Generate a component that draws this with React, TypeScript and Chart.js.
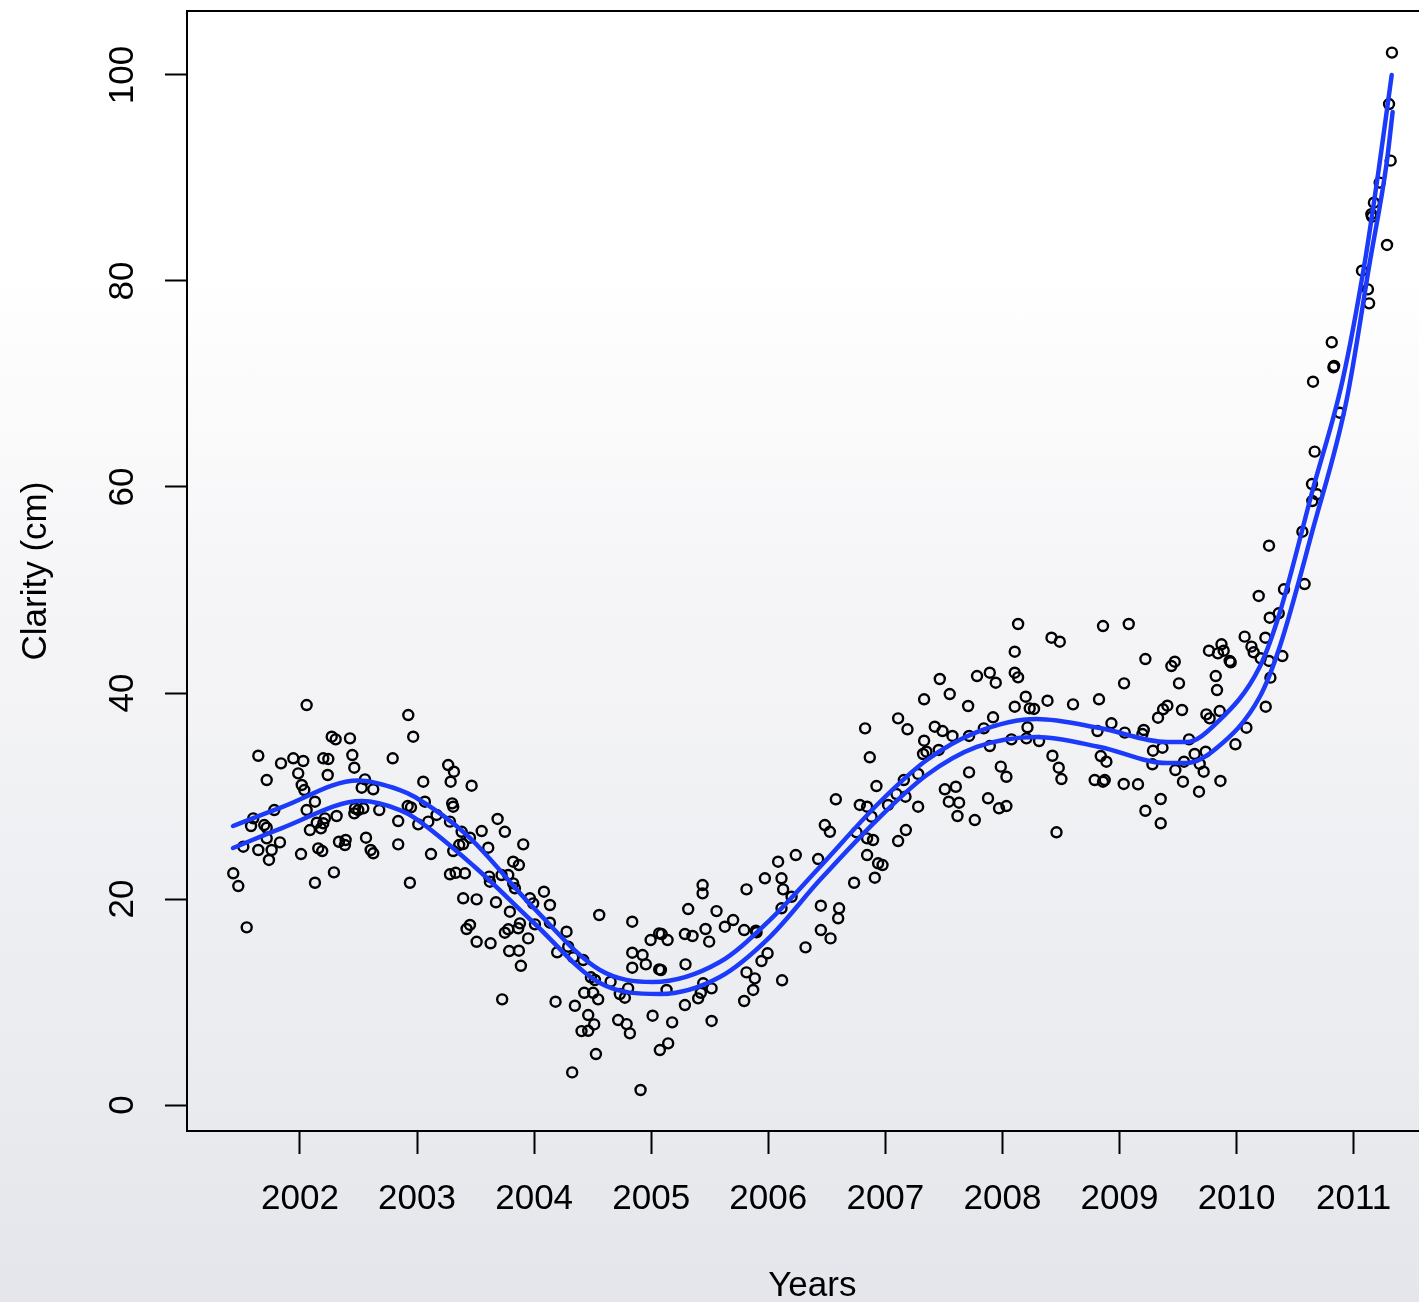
import { useEffect, useRef } from 'react';
import { Chart, registerables } from 'chart.js';

Chart.register(...registerables);

const FONT = '"Liberation Sans", Arial, Helvetica, sans-serif';
const BLUE = '#1c3afa';

// Axis ticks
const yearTicks = [2002, 2003, 2004, 2005, 2006, 2007, 2008, 2009, 2010, 2011];
const clarityTicks = [0, 20, 40, 60, 80, 100];

// Axis ranges (years, cm)
const yearRange = [2001.035, 2011.717];
const clarityRange = [-2.52, 106.21];

// Individual clarity measurements: decimal year and clarity in cm
const sampleYear = [
  2002.057, 2002.925, 2002.967, 2002.271, 2002.305, 2002.427, 2001.644, 2001.838, 2001.943, 2002.028,
  2002.199, 2002.242, 2002.447, 2002.464, 2002.792, 2001.985, 2002.237, 2001.716, 2002.015, 2002.037,
  2002.555, 2002.527, 2002.626, 2003.053, 2003.266, 2003.315, 2003.287, 2003.466, 2002.128, 2002.057,
  2001.781, 2002.470, 2002.498, 2002.541, 2002.677, 2002.313, 2002.464, 2002.213, 2002.199, 2002.143,
  2002.085, 2002.179, 2001.601, 2001.582, 2001.695, 2001.716, 2003.067, 2002.920, 2002.948, 2003.167,
  2002.839, 2003.010, 2003.096, 2003.281, 2003.309, 2003.300, 2003.381, 2003.452, 2001.716, 2001.829,
  2001.516, 2001.644, 2001.758, 2001.735, 2002.009, 2002.156, 2002.190, 2002.333, 2002.390, 2002.384,
  2002.564, 2002.604, 2002.626, 2002.839, 2003.119, 2003.309, 2003.360, 2003.394, 2001.430, 2001.473,
  2002.290, 2002.128, 2002.939, 2003.281, 2003.330, 2003.409, 2003.394, 2001.545, 2003.423, 2003.452,
  2003.688, 2003.750, 2003.552, 2003.608, 2003.907, 2003.821, 2003.870, 2003.616, 2003.622, 2003.722,
  2003.779, 2003.821, 2003.836, 2003.509, 2003.674, 2003.793, 2003.964, 2003.992, 2004.084, 2004.135,
  2003.879, 2003.864, 2003.779, 2003.750, 2004.007, 2004.135, 2003.949, 2003.628, 2003.509, 2003.787,
  2003.870, 2003.887, 2003.727, 2004.277, 2004.197, 2004.291, 2004.334, 2004.419, 2004.556, 2004.838,
  2004.995, 2005.068, 2004.838, 2004.926, 2004.954, 2004.838, 2005.068, 2004.485, 2004.519, 2004.653,
  2004.428, 2004.504, 2004.547, 2004.732, 2004.775, 2004.803, 2004.183, 2004.348, 2004.462, 2004.513,
  2004.405, 2004.462, 2004.718, 2004.790, 2004.818, 2005.012, 2004.528, 2004.325, 2004.909, 2005.074,
  2006.577, 2006.782, 2006.844, 2006.924, 2006.483, 2006.526, 2006.754, 2006.844, 2006.895, 2006.882,
  2006.844, 2006.938, 2006.910, 2006.733, 2006.235, 2006.084, 2006.426, 2006.113, 2006.127, 2006.199,
  2006.113, 2005.971, 2005.814, 2006.449, 2006.605, 2006.597, 2006.449, 2006.532, 2006.318, 2005.439,
  2005.439, 2005.316, 2005.558, 2005.700, 2005.629, 2005.464, 2005.495, 2005.794, 2005.894, 2005.900,
  2005.288, 2005.353, 2005.089, 2005.140, 2005.293, 2005.083, 2005.994, 2005.942, 2005.814, 2005.885,
  2005.871, 2005.794, 2006.118, 2005.444, 2005.424, 2005.401, 2005.516, 2005.131, 2005.288, 2005.179,
  2005.516, 2005.145,
  2008.134, 2008.105, 2008.105, 2008.134, 2007.465, 2007.783, 2007.892, 2007.943, 2007.550, 2007.331,
  2007.707, 2008.105, 2007.109, 2007.189, 2006.827, 2006.867, 2007.422, 2007.488, 2007.573, 2007.715,
  2007.841, 2007.920, 2007.892, 2008.077, 2007.331, 2007.456, 2007.322, 2007.351, 2007.280, 2007.715,
  2007.986, 2008.034, 2007.158, 2007.508, 2007.602, 2007.542, 2007.630, 2007.616, 2007.764, 2007.877,
  2007.971, 2008.034, 2007.280, 2007.172, 2007.095, 2007.023, 2007.175, 2007.109, 2006.976,
  2008.859, 2009.079, 2008.419, 2008.490, 2009.221, 2009.443, 2009.472, 2009.764, 2009.841, 2009.871,
  2009.890, 2009.941, 2009.950, 2010.069, 2010.127, 2010.146, 2009.039, 2009.508, 2009.822, 2009.833,
  2008.199, 2008.233, 2008.270, 2008.385, 2008.603, 2008.825, 2009.329, 2009.372, 2009.409, 2009.534,
  2009.742, 2009.770, 2009.856, 2008.214, 2008.205, 2008.313, 2008.931, 2008.812, 2009.045, 2009.207,
  2009.196, 2009.594, 2010.084, 2009.990, 2009.286, 2009.367, 2008.427, 2008.481, 2008.504, 2008.840,
  2008.888, 2008.788, 2008.859, 2008.874, 2009.036, 2009.158, 2009.281, 2009.477, 2009.551, 2009.542,
  2009.642, 2009.685, 2009.719, 2009.736, 2009.862, 2009.679, 2009.352, 2009.221, 2009.352, 2008.462,
  2010.653, 2010.881, 2010.667, 2010.644, 2010.687, 2010.647, 2010.562, 2010.277, 2010.581, 2010.405,
  2010.189, 2010.283, 2010.360, 2010.246, 2010.391, 2010.277, 2010.206, 2010.289, 2010.249,
  2011.327, 2011.302, 2011.316, 2011.222, 2011.173, 2011.151, 2011.157, 2011.285, 2011.071, 2011.122,
  2011.132, 2010.813, 2010.833, 2010.827,
];

const sampleClarity = [
  38.83, 37.86, 35.76, 35.76, 35.50, 35.60, 33.91, 33.17, 33.66, 33.40,
  33.66, 33.59, 33.98, 32.75, 33.66, 32.20, 32.04, 31.55, 31.07, 30.58,
  31.62, 30.81, 30.65, 31.39, 33.01, 32.36, 31.39, 31.00, 29.45, 28.64,
  28.64, 28.81, 28.64, 28.81, 28.64, 28.06, 28.32, 27.83, 27.35, 27.41,
  26.70, 26.86, 27.83, 27.09, 27.18, 26.92, 29.45, 29.03, 28.90, 28.16,
  27.57, 27.25, 27.51, 27.51, 28.96, 29.29, 26.53, 25.95, 25.89, 25.50,
  25.08, 24.76, 24.76, 23.79, 24.37, 24.92, 24.66, 25.56, 25.73, 25.24,
  25.95, 24.76, 24.44, 25.31, 24.37, 24.66, 25.24, 25.34, 22.50, 21.26,
  22.59, 21.58, 21.58, 22.40, 22.55, 22.50, 20.07, 17.25, 17.09, 17.48,
  27.77, 26.53, 26.60, 24.98, 25.31, 23.62, 23.30, 22.17, 21.68, 22.33,
  22.33, 21.52, 21.04, 19.97, 19.68, 18.77, 20.07, 19.58, 20.71, 19.42,
  17.64, 17.16, 17.06, 16.73, 17.54, 17.70, 16.18, 15.70, 15.85, 14.95,
  14.98, 13.52, 10.26, 16.83, 14.83, 15.37, 14.34, 14.08, 18.45, 17.80,
  16.02, 16.67, 14.79, 14.56, 13.66, 13.33, 13.17, 12.40, 12.14, 11.97,
  10.90, 10.90, 10.26, 10.78, 10.42, 11.33, 10.03, 9.64, 8.74, 7.83,
  7.18, 7.21, 8.25, 7.86, 6.96, 8.67, 4.95, 3.17, 1.46, 5.34,
  29.68, 29.13, 28.96, 30.97, 27.18, 26.53, 26.48, 25.89, 25.73, 27.99,
  24.27, 23.47, 22.07, 21.58, 24.27, 23.62, 23.88, 22.01, 20.94, 20.22,
  19.10, 22.01, 20.94, 19.35, 19.10, 18.13, 16.99, 16.18, 15.31, 21.36,
  20.55, 19.03, 18.83, 17.96, 17.31, 17.09, 15.86, 16.99, 16.92, 16.77,
  16.60, 16.41, 16.60, 16.02, 13.66, 13.11, 14.73, 13.98, 12.88, 12.30,
  11.17, 10.10, 12.11, 11.82, 10.90, 10.36, 11.33, 11.17, 9.71, 8.03,
  8.16, 5.99,
  46.70, 44.01, 41.97, 41.52, 41.36, 41.65, 41.97, 41.00, 39.90, 39.39,
  38.74, 38.67, 37.54, 36.48, 36.57, 33.76, 36.73, 36.31, 35.83, 35.83,
  36.57, 37.64, 34.85, 35.50, 35.37, 34.47, 34.08, 34.30, 32.14, 32.30,
  32.85, 31.87, 31.55, 30.65, 30.90, 29.45, 29.35, 28.06, 27.67, 29.78,
  28.81, 29.03, 28.96, 29.93, 30.19, 29.13, 26.70, 25.63, 23.30,
  46.50, 46.70, 45.37, 44.98, 43.30, 42.62, 43.04, 44.11, 43.85, 44.73,
  44.11, 43.11, 42.98, 45.47, 44.50, 43.95, 40.94, 40.94, 41.65, 40.29,
  39.64, 38.51, 38.45, 39.25, 38.90, 39.39, 37.60, 38.42, 38.77, 38.35,
  37.93, 37.54, 38.25, 36.67, 35.60, 35.34, 37.06, 36.31, 36.15, 36.41,
  36.02, 35.50, 36.63, 35.02, 34.40, 34.69, 33.91, 32.75, 31.65, 33.88,
  33.33, 31.55, 31.39, 31.55, 31.17, 31.14, 33.08, 32.52, 33.33, 31.39,
  34.08, 33.11, 32.36, 34.30, 31.46, 30.42, 29.71, 28.57, 27.35, 26.48,
  70.22, 67.21, 63.43, 60.29, 59.29, 58.64, 55.66, 54.30, 50.58, 50.07,
  49.42, 47.31, 47.74, 45.37, 43.59, 43.11, 43.37, 41.49, 38.67,
  102.17, 97.18, 91.68, 89.55, 87.60, 86.48, 86.24, 83.50, 81.00, 79.19,
  77.83, 74.05, 71.75, 71.62,
];

// Upper and lower smoothed trend curves
const upperYear = [
  2001.428, 2001.846, 2002.495, 2002.854, 2002.982, 2003.426, 2003.990, 2004.562, 2005.014, 2005.586,
  2006.013, 2006.440, 2006.953, 2007.354, 2007.781, 2008.293, 2008.831, 2009.403, 2009.574, 2009.830,
  2010.197, 2010.368, 2010.650, 2010.906, 2011.094, 2011.222, 2011.325,
];
const upperClarity = [
  27.09, 28.93, 31.50, 30.58, 29.90, 26.21, 19.22, 13.11, 11.94, 13.88,
  17.96, 23.11, 29.42, 33.50, 36.21, 37.48, 36.60, 35.24, 35.24, 37.09,
  42.52, 47.77, 59.71, 70.39, 81.75, 91.46, 100.0,
];
const lowerYear = [
  2001.428, 2001.846, 2002.529, 2002.854, 2002.982, 2003.494, 2003.990, 2004.562, 2005.074, 2005.586,
  2006.013, 2006.440, 2006.953, 2007.354, 2007.781, 2008.293, 2008.831, 2009.403, 2009.574, 2009.830,
  2010.197, 2010.368, 2010.650, 2010.940, 2011.137, 2011.282, 2011.333,
];
const lowerClarity = [
  24.95, 26.89, 29.51, 28.64, 27.86, 23.11, 17.77, 11.84, 10.78, 12.43,
  16.31, 21.84, 27.96, 32.04, 34.76, 35.73, 34.76, 33.20, 33.20, 34.66,
  39.61, 44.47, 55.83, 68.45, 81.75, 91.46, 96.41,
];

const toPoints = (xs: number[], ys: number[]) => xs.map((x, i) => ({ x, y: ys[i] }));

// Closes the plot box along its top edge
const topFrame = {
  id: 'topFrame',
  afterDraw(chart: any) {
    const { ctx, chartArea } = chart;
    ctx.save();
    ctx.strokeStyle = '#000';
    ctx.lineWidth = 2;
    ctx.beginPath();
    ctx.moveTo(chartArea.left - 1, chartArea.top);
    ctx.lineTo(chartArea.right + 1, chartArea.top);
    ctx.stroke();
    ctx.restore();
  },
};

export default function App() {
  const canvasRef = useRef<HTMLCanvasElement>(null);

  useEffect(() => {
    const canvas = canvasRef.current;
    if (!canvas) return;

    const tickFont = { family: FONT, size: 35 };
    const trend = {
      type: 'line' as const,
      borderColor: BLUE,
      borderWidth: 4.5,
      borderCapStyle: 'round' as const,
      borderJoinStyle: 'round' as const,
      pointRadius: 0,
      fill: false,
      cubicInterpolationMode: 'monotone' as const,
    };

    const chart = new Chart(canvas, {
      type: 'scatter',
      data: {
        datasets: [
          { ...trend, label: 'upper', data: toPoints(upperYear, upperClarity) },
          { ...trend, label: 'lower', data: toPoints(lowerYear, lowerClarity) },
          {
            type: 'scatter',
            label: 'Clarity',
            data: toPoints(sampleYear, sampleClarity),
            pointStyle: 'circle',
            pointRadius: 5,
            pointBorderWidth: 2.4,
            pointBorderColor: '#000',
            pointBackgroundColor: 'rgba(0,0,0,0)',
          },
        ],
      } as any,
      options: {
        responsive: false,
        animation: false,
        devicePixelRatio: 1,
        events: [],
        layout: { padding: { top: 11, right: 7, bottom: 0, left: 0 } },
        plugins: { legend: { display: false }, tooltip: { enabled: false } },
        scales: {
          x: {
            type: 'linear',
            position: 'bottom',
            min: yearRange[0],
            max: yearRange[1],
            afterBuildTicks: (scale: any) => {
              scale.ticks = yearTicks.map((value) => ({ value }));
            },
            afterFit: (scale: any) => {
              scale.height = 171;
              scale.paddingLeft = 0;
              scale.paddingRight = 0;
            },
            ticks: {
              autoSkip: false,
              minRotation: 0,
              maxRotation: 0,
              padding: 24,
              color: '#000',
              font: tickFont,
              callback: (v: any) => String(v),
            },
            grid: {
              display: true,
              drawOnChartArea: false,
              drawTicks: true,
              tickLength: 23,
              tickWidth: 2,
              tickColor: '#000',
            },
            border: { display: true, color: '#000', width: 2 },
            title: {
              display: true,
              text: 'Years',
              color: '#000',
              font: tickFont,
              padding: { top: 0, bottom: -5 },
            },
          },
          y: {
            type: 'linear',
            position: 'left',
            min: clarityRange[0],
            max: clarityRange[1],
            afterBuildTicks: (scale: any) => {
              scale.ticks = clarityTicks.map((value) => ({ value }));
            },
            afterFit: (scale: any) => {
              scale.width = 187;
              scale.paddingTop = 0;
              scale.paddingBottom = 0;
            },
            ticks: {
              autoSkip: false,
              minRotation: 90,
              maxRotation: 90,
              crossAlign: 'center',
              padding: 12,
              color: '#000',
              font: tickFont,
              callback: (v: any) => String(v),
            },
            grid: {
              display: true,
              drawOnChartArea: false,
              drawTicks: true,
              tickLength: 22,
              tickWidth: 2,
              tickColor: '#000',
            },
            border: { display: true, color: '#000', width: 2 },
            title: {
              display: true,
              text: 'Clarity (cm)',
              color: '#000',
              font: tickFont,
              padding: { top: 15, bottom: 0 },
            },
          },
        },
      } as any,
      plugins: [topFrame],
    });

    return () => chart.destroy();
  }, []);

  return (
    <div
      style={{
        position: 'fixed',
        left: 0,
        top: 0,
        width: '100vw',
        height: '100vh',
        overflow: 'hidden',
        background:
          'linear-gradient(to bottom, #ffffff 0px, #ffffff 270px, #f6f6f8 560px, #eeeff2 900px, #e5e6eb 1302px)',
      }}
    >
      <canvas ref={canvasRef} width={1445} height={1302} style={{ display: 'block', width: 1445, height: 1302 }} />
    </div>
  );
}
